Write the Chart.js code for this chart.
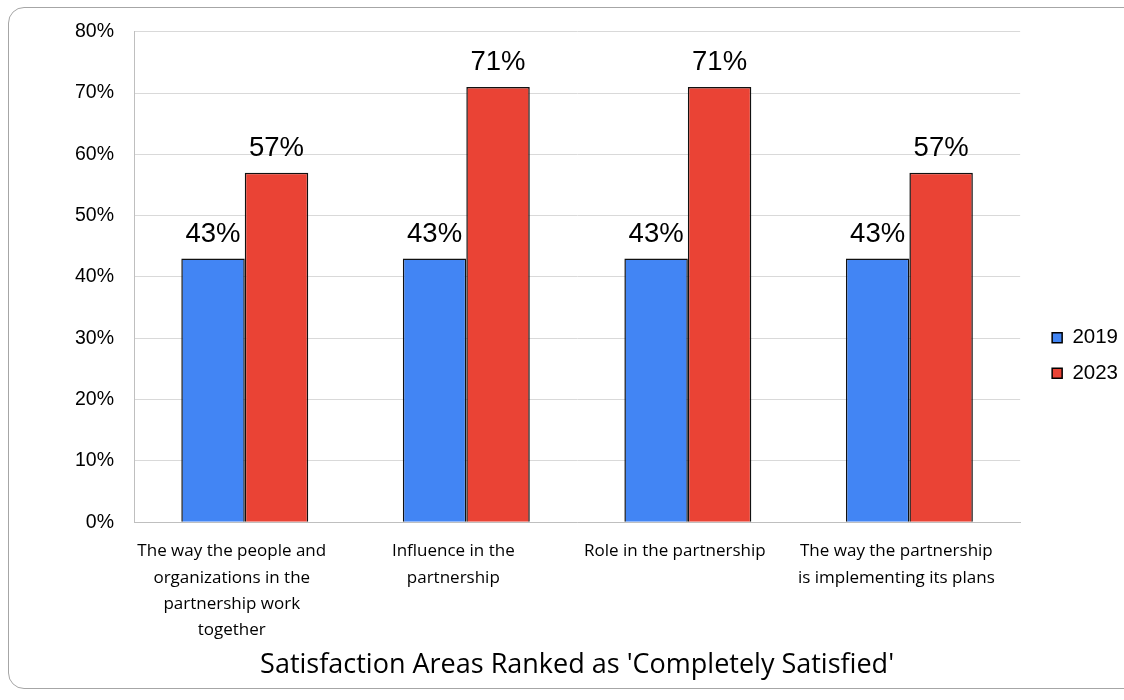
<!DOCTYPE html>
<html>
<head>
<meta charset="utf-8">
<script src="https://cdn.jsdelivr.net/npm/chart.js@4/dist/chart.umd.min.js"></script>
<style>
  html, body { margin: 0; padding: 0; background: #fff; width: 1124px; height: 700px; overflow: hidden; }
  #frame { position: absolute; left: 8px; top: 7px; width: 1140px; height: 682px; border: 1px solid #a6a6a6; border-radius: 16px; box-sizing: border-box; }
  #wrap { position: absolute; left: 0; top: 0; width: 1124px; height: 700px; }
</style>
</head>
<body>
<div id="frame"></div>
<div id="wrap"><canvas id="c" width="1124" height="700"></canvas></div>
<script>
const categories = [
  ["The way the people and", "organizations in the", "partnership work", "together"],
  ["Influence in the", "partnership"],
  ["Role in the partnership"],
  ["The way the partnership", "is implementing its plans"]
];
const seriesNames = ["2019", "2023"];
const values2019 = [43, 43, 43, 43];
const values2023 = [57, 71, 71, 57];
const yTicks = [0, 10, 20, 30, 40, 50, 60, 70, 80];
const xAxisTitle = "Satisfaction Areas Ranked as 'Completely Satisfied'";

const labelPlugin = {
  id: 'valueLabels',
  afterDatasetsDraw(chart) {
    const ctx = chart.ctx;
    ctx.save();
    ctx.font = '27.5px "Liberation Sans", Arial, sans-serif';
    ctx.fillStyle = '#000';
    ctx.textAlign = 'center';
    ctx.textBaseline = 'alphabetic';
    chart.data.datasets.forEach((ds, i) => {
      chart.getDatasetMeta(i).data.forEach((bar, j) => {
        ctx.fillText(ds.data[j] + '%', bar.x, bar.y - 17);
      });
    });
    ctx.restore();
  }
};

const legendShift = {
  id: 'legendShift',
  afterLayout(chart) {
    if (chart.legend) { chart.legend.top += 5; chart.legend.bottom += 5; chart.legend.left += 17; chart.legend.right += 17; }
  }
};

new Chart(document.getElementById('c'), {
  type: 'bar',
  data: {
    labels: categories,
    datasets: [
      { label: seriesNames[0], data: values2019, backgroundColor: '#4285F4', borderColor: '#111', borderWidth: 1.5 },
      { label: seriesNames[1], data: values2023, backgroundColor: '#EA4335', borderColor: '#111', borderWidth: 1.5 }
    ]
  },
  options: {
    responsive: false,
    animation: false,
    layout: { padding: { top: 19, right: 13, bottom: 18, left: 10 } },
    datasets: { bar: { categoryPercentage: 0.573, barPercentage: 1.0 } },
    plugins: {
      legend: {
        position: 'right',
        labels: {
          boxWidth: 10, boxHeight: 10, padding: 15,
          color: '#000',
          font: { family: '"Liberation Sans", Arial, sans-serif', size: 20.5 },
          generateLabels(chart) {
            return chart.data.datasets.map((ds, i) => ({
              text: ds.label, fillStyle: ds.backgroundColor, strokeStyle: '#000', lineWidth: 1.5, datasetIndex: i, fontColor: '#000'
            }));
          }
        }
      },
      tooltip: { enabled: false }
    },
    scales: {
      x: {
        grid: { display: false, drawTicks: false },
        border: { display: true, color: '#bfbfbf', width: 1 },
        ticks: {
          color: '#000', padding: 16, maxRotation: 0, autoSkip: false, labelOffset: -13,
          font: { family: '"Open Sans", Lato, sans-serif', size: 17, lineHeight: 1.55 }
        },
        title: {
          display: true, text: xAxisTitle, color: '#000',
          font: { family: '"Open Sans", Lato, sans-serif', size: 27 },
          padding: { top: -10, bottom: 0 }
        }
      },
      y: {
        min: 0, max: 80,
        afterBuildTicks(scale) { scale.ticks = yTicks.map(v => ({ value: v })); },
        afterFit(scale) { scale.width = 124; },
        grid: { color: '#d9d9d9', drawTicks: false, lineWidth: 1 },
        border: { display: true, color: '#bfbfbf', width: 1 },
        ticks: {
          color: '#000', padding: 20,
          font: { family: '"Liberation Sans", Arial, sans-serif', size: 19.5 },
          callback: v => v + '%'
        }
      }
    }
  },
  plugins: [labelPlugin, legendShift]
});
</script>
</body>
</html>
